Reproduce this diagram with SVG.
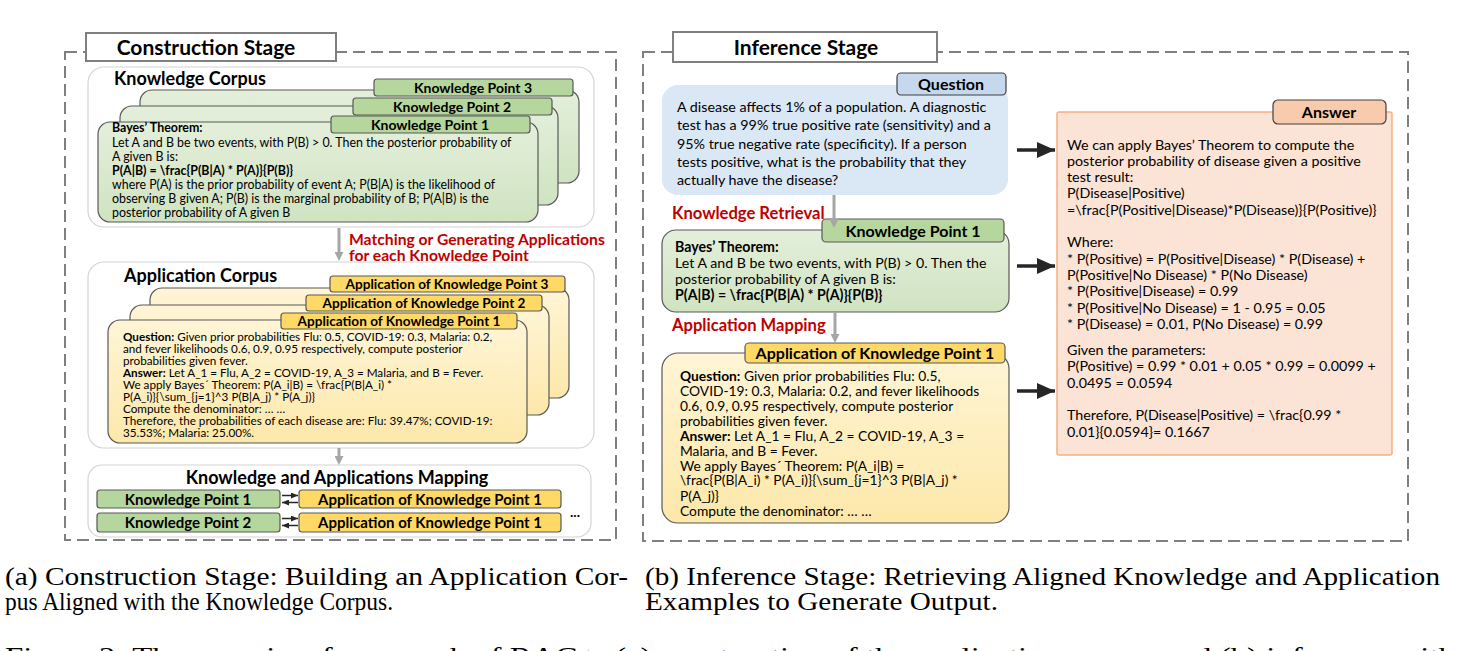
<svg xmlns="http://www.w3.org/2000/svg" width="1462" height="651" viewBox="0 0 1462 651">
<defs>
<linearGradient id="gGreen" x1="0" y1="0" x2="0" y2="1"><stop offset="0" stop-color="#e4efdb"/><stop offset="1" stop-color="#cfe3c1"/></linearGradient>
<linearGradient id="gYellow" x1="0" y1="0" x2="0" y2="1"><stop offset="0" stop-color="#fff5d6"/><stop offset="1" stop-color="#fde8aa"/></linearGradient>
<marker id="mGray" markerWidth="9" markerHeight="9" refX="4" refY="4.5" orient="auto" markerUnits="userSpaceOnUse" viewBox="0 0 9 9"><path d="M0,0 L9,4.5 L0,9 z" fill="#a6a6a6"/></marker>
<marker id="mBlack" markerWidth="18" markerHeight="16" refX="18" refY="8" orient="auto" markerUnits="userSpaceOnUse" viewBox="0 0 18 16"><path d="M0,0 L18,8 L0,16 z" fill="#262626"/></marker>
<marker id="mSmall" markerWidth="7" markerHeight="6" refX="7" refY="3" orient="auto" markerUnits="userSpaceOnUse" viewBox="0 0 7 6"><path d="M0,0 L7,3 L0,6 z" fill="#262626"/></marker>
<style>
text{font-family:Lato,"Liberation Sans",sans-serif;fill:#000}
.dash{fill:none;stroke:#7f7f7f;stroke-width:2;stroke-dasharray:12 6}
.title{fill:#fff;stroke:#7f7f7f;stroke-width:2}
.tt{font-size:21px;font-weight:bold;text-anchor:middle}
.cont{fill:#fff;stroke:#d4d4d4;stroke-width:1.2}
.ct{font-size:18px;font-weight:bold}
.gcard{fill:url(#gGreen);stroke:#595959;stroke-width:1.2}
.ycard{fill:url(#gYellow);stroke:#595959;stroke-width:1.2}
.gtab{fill:#b5d69c;stroke:#595959;stroke-width:1.2}
.ytab{fill:#ffd966;stroke:#595959;stroke-width:1.2}
.tabt{font-size:14px;font-weight:bold;text-anchor:middle}
.ytabt{font-size:13.6px;font-weight:bold;text-anchor:middle}
.mapt{font-size:15px;font-weight:bold;text-anchor:middle}
.lg{font-size:12.4px}
.ly{font-size:11.7px}
.rq{font-size:14.3px}
.rg{font-size:14.2px}
.ry{font-size:13.8px}
.ra{font-size:14.3px}
.b{font-weight:bold}
.red{fill:#c00000;font-weight:bold}
.garrow{stroke:#a6a6a6;stroke-width:3;fill:none;marker-end:url(#mGray)}
.barrow{stroke:#262626;stroke-width:3.5;fill:none;marker-end:url(#mBlack)}
.sarrow{stroke:#262626;stroke-width:1.5;fill:none;marker-end:url(#mSmall)}
.cap{font-family:"Liberation Serif",serif;font-size:25px}
.bt{font-size:16px;font-weight:bold;text-anchor:middle}
</style>
</defs>
<rect width="1462" height="651" fill="#fff"/>

<!-- LEFT PANEL -->
<g id="construction-stage">
<rect class="dash" x="65" y="52" width="551" height="488"/>
<rect class="title" x="86" y="33" width="250" height="28"/>
<text class="tt" x="206" y="54.5">Construction Stage</text>
</g>

<g id="knowledge-corpus">
<rect class="cont" x="88" y="67" width="506" height="160" rx="16"/>
<text class="ct" x="114" y="84.5">Knowledge Corpus</text>
<rect class="gcard" x="140" y="90" width="439" height="93" rx="12"/>
<rect class="gtab" x="374" y="79" width="199" height="17" rx="3"/>
<text class="tabt" x="473" y="92.5">Knowledge Point 3</text>
<rect class="gcard" x="120" y="106" width="438" height="99" rx="12"/>
<rect class="gtab" x="353" y="98" width="199" height="17" rx="3"/>
<text class="tabt" x="452" y="111.5">Knowledge Point 2</text>
<rect class="gcard" x="98" y="122" width="440" height="100" rx="12"/>
<rect class="gtab" x="331" y="116" width="199" height="17" rx="3"/>
<text class="tabt" x="430" y="129.5">Knowledge Point 1</text>
<text class="lg b" x="112" y="132">Bayes’ Theorem:</text>
<text class="lg" x="112" y="146.5">Let A and B be two events, with P(B) &gt; 0. Then the posterior probability of</text>
<text class="lg" x="112" y="160.5">A given B is:</text>
<text class="lg b" x="112" y="174.5">P(A|B) = \frac{P(B|A) * P(A)}{P(B)}</text>
<text class="lg" x="112" y="189">where P(A) is the prior probability of event A; P(B|A) is the likelihood of</text>
<text class="lg" x="112" y="203">observing B given A; P(B) is the marginal probability of B; P(A|B) is the</text>
<text class="lg" x="112" y="217">posterior probability of A given B</text>
</g>

<g id="matching-label">
<text class="red" x="349" y="245" font-size="15.7">Matching or Generating Applications</text>
<text class="red" x="349" y="260.5" font-size="15.7">for each Knowledge Point</text>
</g>

<g id="application-corpus">
<rect class="cont" x="88" y="262" width="506" height="186" rx="16"/>
<text class="ct" x="124" y="281.5">Application Corpus</text>
<rect class="ycard" x="150" y="288" width="419" height="110" rx="12"/>
<rect class="ytab" x="330" y="276" width="235" height="16" rx="3"/>
<text class="ytabt" x="447" y="289">Application of Knowledge Point 3</text>
<rect class="ycard" x="130" y="305" width="419" height="110" rx="12"/>
<rect class="ytab" x="306" y="295" width="236" height="16" rx="3"/>
<text class="ytabt" x="424" y="308">Application of Knowledge Point 2</text>
<rect class="ycard" x="108" y="320" width="419" height="123" rx="12"/>
<rect class="ytab" x="281" y="313" width="236" height="16" rx="3"/>
<text class="ytabt" x="399" y="326">Application of Knowledge Point 1</text>
<text class="ly" x="123" y="341"><tspan class="b">Question:</tspan> Given prior probabilities Flu: 0.5, COVID-19: 0.3, Malaria: 0.2,</text>
<text class="ly" x="123" y="353">and fever likelihoods 0.6, 0.9, 0.95 respectively, compute posterior</text>
<text class="ly" x="123" y="365">probabilities given fever.</text>
<text class="ly" x="123" y="377"><tspan class="b">Answer:</tspan>  Let A_1 = Flu, A_2 = COVID-19, A_3 = Malaria, and B = Fever.</text>
<text class="ly" x="123" y="389">We apply Bayes´ Theorem:  P(A_i|B) = \frac{P(B|A_i) *</text>
<text class="ly" x="123" y="401">P(A_i)}{\sum_{j=1}^3 P(B|A_j) * P(A_j)}</text>
<text class="ly" x="123" y="412.5">Compute the denominator: … …</text>
<text class="ly" x="123" y="424.5">Therefore, the probabilities of each disease are: Flu: 39.47%; COVID-19:</text>
<text class="ly" x="123" y="436.5">35.53%; Malaria: 25.00%.</text>
</g>

<g id="mapping">
<rect class="cont" x="88" y="465" width="503" height="72" rx="14"/>
<text x="337" y="483.5" font-size="18" font-weight="bold" text-anchor="middle">Knowledge and Applications Mapping</text>
<g id="map-kp1">
<rect class="gtab" x="97" y="490" width="183" height="18" rx="3"/>
<text class="mapt" x="188" y="504.5">Knowledge Point 1</text>
</g>
<g id="map-akp1">
<rect class="ytab" x="299" y="490" width="262" height="18" rx="3"/>
<text class="mapt" x="430" y="504.5">Application of Knowledge Point 1</text>
</g>
<g id="map-kp2">
<rect class="gtab" x="97" y="513" width="183" height="19" rx="3"/>
<text class="mapt" x="188" y="528">Knowledge Point 2</text>
</g>
<g id="map-akp1b">
<rect class="ytab" x="299" y="513" width="262" height="19" rx="3"/>
<text class="mapt" x="430" y="528">Application of Knowledge Point 1</text>
</g>
<text x="570" y="517" font-size="14" font-weight="bold">...</text>
</g>

<!-- RIGHT PANEL -->
<g id="inference-stage">
<rect class="dash" x="643" y="52" width="765" height="489"/>
<rect class="title" x="673" y="32" width="264" height="30"/>
<text class="tt" x="806" y="54.5">Inference Stage</text>
</g>

<g id="question">
<rect x="662" y="85" width="346" height="110" rx="16" fill="#dae7f4"/>
<rect x="897" y="73" width="109" height="22" rx="4" fill="#c5d8ee" stroke="#404040" stroke-width="1.2"/>
<text class="bt" x="951" y="90">Question</text>
<text class="rq" x="677" y="112">A disease affects 1% of a population. A diagnostic</text>
<text class="rq" x="677" y="130">test has a 99% true positive rate (sensitivity) and a</text>
<text class="rq" x="677" y="148.5">95% true negative rate (specificity). If a person</text>
<text class="rq" x="677" y="167">tests positive, what is the probability that they</text>
<text class="rq" x="677" y="185">actually have the disease?</text>
</g>

<text class="red" x="672" y="219" font-size="16.6">Knowledge Retrieval</text>

<g id="retrieved-knowledge">
<rect class="gcard" x="662" y="230" width="347" height="82" rx="14"/>
<rect class="gtab" x="822" y="219" width="182" height="23" rx="4" stroke="#404040"/>
<text class="bt" x="913" y="236.5" font-size="16.5">Knowledge Point 1</text>
<text class="rg b" x="675" y="251.5">Bayes’ Theorem:</text>
<text class="rg" x="675" y="267.5">Let A and B be two events, with P(B) &gt; 0. Then the</text>
<text class="rg" x="675" y="283.5">posterior probability of A given B is:</text>
<text class="rg b" x="675" y="299.5">P(A|B) = \frac{P(B|A) * P(A)}{P(B)}</text>
</g>

<text class="red" x="672" y="331" font-size="16.6">Application Mapping</text>

<g id="mapped-application">
<rect class="ycard" x="662" y="353" width="347" height="170" rx="16"/>
<rect class="ytab" x="745" y="343" width="260" height="20" rx="4" stroke="#404040"/>
<text class="bt" x="875" y="358.5" font-size="15">Application of Knowledge Point 1</text>
<text class="ry" x="680" y="381">
<tspan class="b">Question:</tspan> Given prior probabilities Flu: 0.5,</text>
<text class="ry" x="680" y="396">COVID-19: 0.3, Malaria: 0.2, and fever likelihoods</text>
<text class="ry" x="680" y="411">0.6, 0.9, 0.95 respectively, compute posterior</text>
<text class="ry" x="680" y="426">probabilities given fever.</text>
<text class="ry" x="680" y="441"><tspan class="b">Answer:</tspan>  Let A_1 = Flu, A_2 = COVID-19, A_3 =</text>
<text class="ry" x="680" y="456">Malaria, and B = Fever.</text>
<text class="ry" x="680" y="470.5">We apply Bayes´ Theorem:  P(A_i|B) =</text>
<text class="ry" x="680" y="485">\frac{P(B|A_i) * P(A_i)}{\sum_{j=1}^3 P(B|A_j) *</text>
<text class="ry" x="680" y="501">P(A_j)}</text>
<text class="ry" x="680" y="516">Compute the denominator: … …</text>
</g>

<g id="answer">
<rect x="1057" y="112" width="335" height="343" rx="2" fill="#fbe3d5" stroke="#f4b183" stroke-width="1.5"/>
<rect x="1273" y="100" width="113" height="24" rx="5" fill="#f8cbad" stroke="#404040" stroke-width="1.2"/>
<text class="bt" x="1329" y="118">Answer</text>
<text class="ra" x="1067" y="149.5">We can apply Bayes’ Theorem to compute the</text>
<text class="ra" x="1067" y="165.8">posterior probability of disease given a positive</text>
<text class="ra" x="1067" y="182.1">test result:</text>
<text class="ra" x="1067" y="198.4">P(Disease|Positive)</text>
<text class="ra" x="1067" y="214.7">=\frac{P(Positive|Disease)*P(Disease)}{P(Positive)}</text>
<text class="ra" x="1067" y="247.3">Where:</text>
<text class="ra" x="1067" y="263.6">* P(Positive) = P(Positive|Disease) * P(Disease) +</text>
<text class="ra" x="1067" y="279.9">P(Positive|No Disease) * P(No Disease)</text>
<text class="ra" x="1067" y="296.2">* P(Positive|Disease) = 0.99</text>
<text class="ra" x="1067" y="312.5">* P(Positive|No Disease) = 1 - 0.95 = 0.05</text>
<text class="ra" x="1067" y="328.8">* P(Disease) = 0.01, P(No Disease) = 0.99</text>
<text class="ra" x="1067" y="355">Given the parameters:</text>
<text class="ra" x="1067" y="371.3">P(Positive) = 0.99 * 0.01 + 0.05 * 0.99 = 0.0099 +</text>
<text class="ra" x="1067" y="387.6">0.0495 = 0.0594</text>
<text class="ra" x="1067" y="420.2">Therefore,  P(Disease|Positive) = \frac{0.99 *</text>
<text class="ra" x="1067" y="436.5">0.01}{0.0594}= 0.1667</text>
</g>

<g id="connectors">
<path class="garrow" d="M339,228 V256"/>
<path class="garrow" d="M339,448 V460"/>
<path class="garrow" d="M834,195 V223"/>
<path class="garrow" d="M835,312 V338"/>
<path class="barrow" d="M1017,150 H1055"/>
<path class="barrow" d="M1017,266 H1055"/>
<path class="barrow" d="M1017,391 H1055"/>
<path class="sarrow" d="M282,495.5 H298"/>
<path class="sarrow" d="M298,502.5 H282"/>
<path class="sarrow" d="M282,518.5 H298"/>
<path class="sarrow" d="M298,525.5 H282"/>
</g>

<g id="captions">
<text class="cap" x="5" y="585" textLength="623" lengthAdjust="spacingAndGlyphs">(a) Construction Stage: Building an Application Cor-</text>
<text class="cap" x="5" y="610" textLength="388" lengthAdjust="spacingAndGlyphs">pus Aligned with the Knowledge Corpus.</text>
<text class="cap" x="645" y="585" textLength="795" lengthAdjust="spacingAndGlyphs">(b) Inference Stage: Retrieving Aligned Knowledge and Application</text>
<text class="cap" x="645" y="610" textLength="353" lengthAdjust="spacingAndGlyphs">Examples to Generate Output.</text>
<text class="cap" x="5" y="665" textLength="1450" lengthAdjust="spacingAndGlyphs">Figure 2: The overview framework of RAG+: (a) construction of the application corpus and (b) inference with</text>
</g>
</svg>
